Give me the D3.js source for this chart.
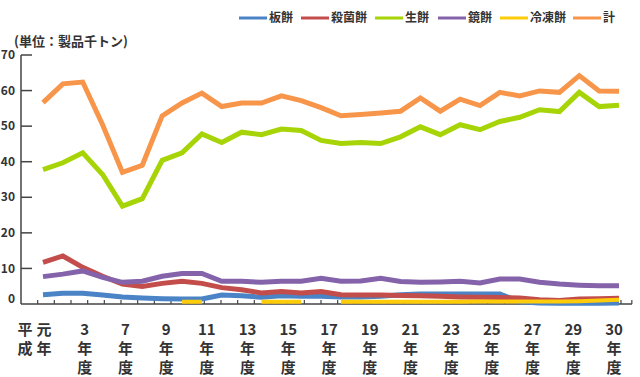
<!DOCTYPE html>
<html>
<head>
<meta charset="utf-8">
<script src="https://cdn.jsdelivr.net/npm/d3@7"></script>
<style>
  body { margin: 0; background: #fff; }
  text { font-family: "Noto Sans CJK JP", "Noto Sans", sans-serif; fill: #333; font-weight: bold; }
</style>
</head>
<body>
<div id="chart"></div>
<script>

// 平成元年度〜30年度
var years = d3.range(1, 31);

var itamochi  = [2.6, 3.0, 3.0, 2.5, 2.0, 1.7, 1.5, 1.4, 1.4, 2.5, 2.3, 1.9, 2.3, 2.2, 2.2, 2.0, 2.0, 2.2, 2.6, 2.8, 2.8, 2.8, 2.8, 2.8, 0.6, 0.3, 0.2, 0.2, 0.2, 0.3];
var sakkin    = [11.7, 13.5, 10.3, 7.8, 5.6, 4.9, 5.8, 6.4, 5.8, 4.6, 4.0, 3.1, 3.5, 3.1, 3.5, 2.6, 2.5, 2.5, 2.4, 2.3, 2.2, 2.0, 1.9, 1.8, 1.7, 1.2, 1.0, 1.4, 1.5, 1.6];
var namamochi = [37.8, 39.7, 42.5, 36.4, 27.5, 29.6, 40.4, 42.5, 47.8, 45.4, 48.3, 47.6, 49.2, 48.8, 46.0, 45.1, 45.4, 45.1, 47.0, 49.8, 47.6, 50.4, 49.0, 51.3, 52.5, 54.6, 54.1, 59.5, 55.5, 55.9];
var kagami    = [7.7, 8.4, 9.3, 7.5, 6.1, 6.4, 7.8, 8.6, 8.6, 6.4, 6.4, 6.1, 6.4, 6.4, 7.2, 6.4, 6.5, 7.2, 6.3, 6.1, 6.2, 6.4, 5.9, 7.0, 7.0, 6.1, 5.6, 5.3, 5.1, 5.1];
var reito     = [null, null, null, null, null, null, null, 0.6, 0.6, null, null, 0.6, 0.6, 0.6, null, 0.6, 0.6, 0.6, 0.6, 0.6, 0.6, 0.6, 0.7, 0.7, 0.7, 0.7, 0.7, 0.8, 1.0, 1.2];
var total     = [56.6, 61.9, 62.4, 50.4, 37.0, 39.0, 52.9, 56.5, 59.3, 55.5, 56.5, 56.5, 58.5, 57.2, 55.2, 52.9, 53.3, 53.7, 54.2, 57.9, 54.2, 57.6, 55.8, 59.5, 58.5, 59.9, 59.5, 64.2, 59.9, 59.8];

var seriesNames  = ["板餅", "殺菌餅", "生餅", "鏡餅", "冷凍餅", "計"];
var seriesValues = [itamochi, sakkin, namamochi, kagami, reito, total];
var colors       = ["#4a83c6", "#c24d4a", "#a6d406", "#8463aa", "#ffcc0a", "#f7964a"];

var yTicks = [0, 10, 20, 30, 40, 50, 60, 70];
var xLabels = ["元年", "3", "7", "9", "11", "13", "15", "17", "19", "21", "23", "25", "27", "29", "30"];

var width = 640, height = 377;

var svg = d3.select("#chart").append("svg")
    .attr("width", width)
    .attr("height", height);

var x = d3.scaleLinear().domain([0, years.length - 1]).range([43, 619]);
var y = d3.scaleLinear().domain([0, 70]).range([304, 55]);
var xLab = d3.scalePoint().domain(xLabels).range([44, 614]);

// axes
var axisColor = "#444";

svg.append("line")
    .attr("x1", 21).attr("x2", 21)
    .attr("y1", y(70)).attr("y2", y(0))
    .attr("stroke", axisColor).attr("stroke-width", 1.5);

svg.append("line")
    .attr("x1", 21).attr("x2", 632)
    .attr("y1", y(0)).attr("y2", y(0))
    .attr("stroke", axisColor).attr("stroke-width", 1.5);

svg.selectAll(".ytick")
    .data(yTicks.filter(d => d > 0))
    .enter().append("line")
    .attr("x1", 21).attr("x2", 32)
    .attr("y1", d => y(d)).attr("y2", d => y(d))
    .attr("stroke", axisColor).attr("stroke-width", 1.5);

svg.selectAll(".ylab")
    .data(yTicks)
    .enter().append("text")
    .attr("x", 15)
    .attr("y", d => y(d) - (d == 0 ? 5 : 0))
    .attr("dy", "0.35em")
    .attr("text-anchor", "end")
    .style("font-size", "12px")
    .text(d => d);

var xt = d3.scaleLinear().domain([0, 36]).range([21, 621]);
svg.selectAll(".xtick")
    .data(d3.range(1, 37).concat([36.65]))
    .enter().append("line")
    .attr("x1", d => xt(d)).attr("x2", d => xt(d))
    .attr("y1", y(0) - 4).attr("y2", y(0))
    .attr("stroke", axisColor).attr("stroke-width", 1.2);

// x labels (vertical text)
function stack(g, chars, cx) {
    chars.forEach(function (c, i) {
        g.append("text")
            .attr("x", cx)
            .attr("y", 330 + i * 19)
            .attr("dy", "0.35em")
            .attr("text-anchor", "middle")
            .style("font-size", "15px")
            .text(c);
    });
}

var xg = svg.append("g");
stack(xg, ["平", "成"], 25);
xLabels.forEach(function (l) {
    if (l == "元年") stack(xg, ["元", "年"], xLab(l));
    else stack(xg, [l, "年", "度"], xLab(l));
});

// lines
var line = d3.line()
    .defined(d => d != null)
    .x((d, i) => x(i))
    .y(d => y(d));

svg.selectAll(".series")
    .data(seriesValues)
    .enter().append("path")
    .attr("d", d => line(d))
    .attr("fill", "none")
    .attr("stroke", (d, i) => colors[i])
    .attr("stroke-width", (d, i) => i == 4 ? 4 : 5)
    .attr("stroke-linejoin", "miter");

// unit label
svg.append("text")
    .attr("x", 14).attr("y", 41)
    .attr("dy", "0.35em")
    .style("font-size", "13px")
    .text("(単位：製品千トン)");

// legend
var legendX = [239, 301, 375, 438, 500, 573];
var legend = svg.selectAll(".legend")
    .data(seriesNames)
    .enter().append("g")
    .attr("transform", (d, i) => "translate(" + legendX[i] + ",18)");

legend.append("line")
    .attr("x1", 0).attr("x2", 28)
    .attr("stroke", (d, i) => colors[i])
    .attr("stroke-width", 3);

legend.append("text")
    .attr("x", 30)
    .attr("dy", "0.35em")
    .style("font-size", "12px")
    .text(d => d);

</script>
</body>
</html>
